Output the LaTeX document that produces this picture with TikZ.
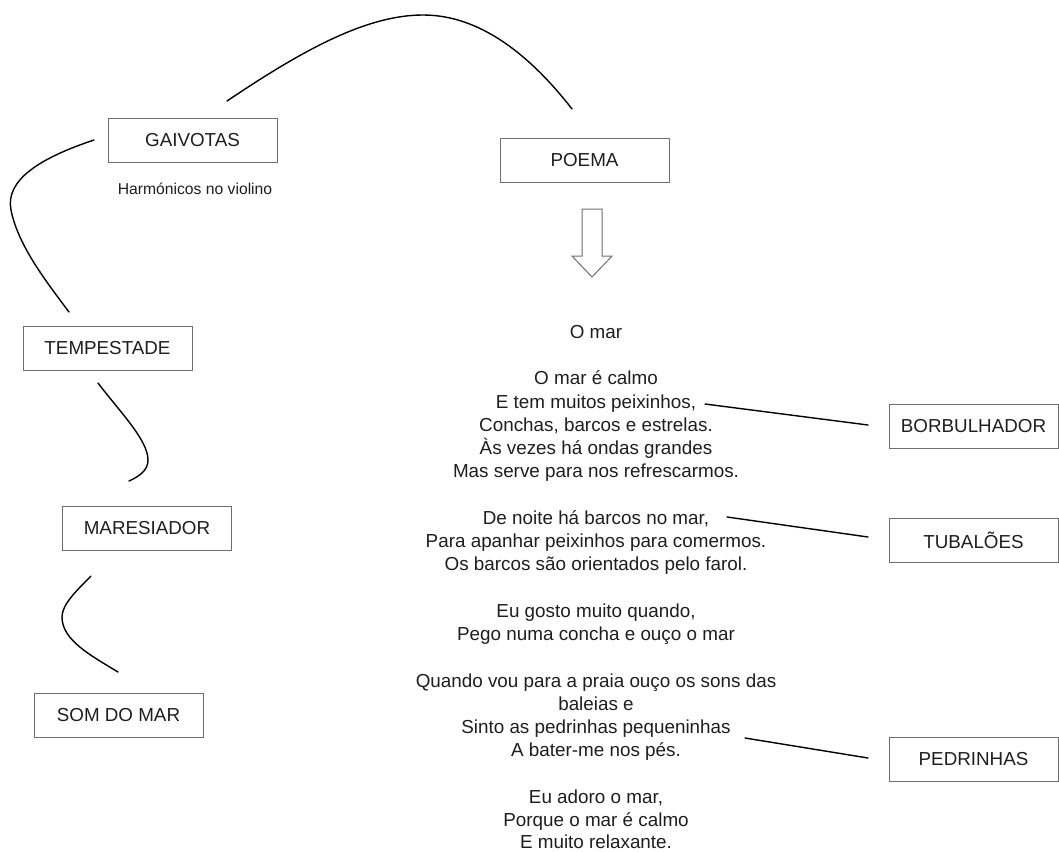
\documentclass[tikz,border=0pt]{standalone}
\usepackage{fontspec}
\setmainfont{Liberation Sans}
\definecolor{boxgray}{HTML}{6E6E6E}
\definecolor{textgray}{HTML}{1E1E1E}
\begin{document}
\begin{tikzpicture}[x=1pt,y=-1pt,
  box/.style={draw=boxgray, line width=1pt, minimum width=169pt, minimum height=44pt, inner sep=0pt, font=\fontsize{18.8}{22}\selectfont, text=textgray},
  conn/.style={line width=1.4pt, black, line cap=round},
  verse/.style={anchor=base, inner sep=0pt, font=\fontsize{18.85}{23}\selectfont, text=textgray},
  note/.style={inner sep=0pt, font=\fontsize{15.7}{18}\selectfont, text=textgray},
  blockarrow/.style={draw=boxgray, line width=1pt, line join=miter}]
\useasboundingbox (0,0) rectangle (1059,851);

% boxes
\node[box] (gaiv) at (192.5,140) {GAIVOTAS};
\node[box] (poema) at (584.5,160) {POEMA};
\node[box] (temp) at (107.5,348) {TEMPESTADE};
\node[box] (mares) at (147,528) {MARESIADOR};
\node[box] (som) at (118.5,715.5) {SOM DO MAR};
\node[box] (borb) at (973.5,426.5) {BORBULHADOR};
\node[box] (tuba) at (973.5,540) {TUBAL\~OES};
\node[box] (pedr) at (973.5,759) {PEDRINHAS};

\node[note] (harm) at (195,189) {Harmónicos no violino};

% block arrow
\draw[blockarrow] (582,209) -- (602,209) -- (602,256) -- (612,256) -- (592,277) -- (572,256) -- (582,256) -- cycle;

% poem
\foreach \yy/\tt [count=\i] in {
  332/{O mar},
  378/{O mar é calmo},
  402/{E tem muitos peixinhos,},
  425/{Conchas, barcos e estrelas.},
  448/{Às vezes há ondas grandes},
  471/{Mas serve para nos refrescarmos.},
  518/{De noite há barcos no mar,},
  541/{Para apanhar peixinhos para comermos.},
  564/{Os barcos são orientados pelo farol.},
  611/{Eu gosto muito quando,},
  634/{Pego numa concha e ouço o mar},
  681/{Quando vou para a praia ouço os sons das},
  704/{baleias e},
  727/{Sinto as pedrinhas pequeninhas},
  750/{A bater-me nos pés.},
  797/{Eu adoro o mar,},
  820/{Porque o mar é calmo},
  842/{E muito relaxante.}}
  \node[verse] (v\i) at (596,\yy+6) {\tt};

% curve end points
\coordinate (a1) at (227,101);
\coordinate (a2) at (423,15);
\coordinate (a3) at (572,109);
\coordinate (b1) at (94,140);
\coordinate (b2) at (11,210);
\coordinate (b3) at (69,312);
\coordinate (t1) at (98,383);
\coordinate (t2) at (148,460);
\coordinate (t3) at (129,481);
\coordinate (m1) at (91,576);
\coordinate (m2) at (62,617);
\coordinate (m3) at (118,672);
\coordinate (r1a) at (705,404);
\coordinate (r1b) at (868,425);
\coordinate (r2a) at (727,517);
\coordinate (r2b) at (868,537);
\coordinate (r3a) at (745,738);
\coordinate (r3b) at (868,758);

% curves
\draw[conn] (a1) .. controls (300,52) and (365,15) .. (a2) .. controls (480,15) and (530,55) .. (a3);
\draw[conn] (b1) .. controls (40,158) and (5,180) .. (b2) .. controls (18,245) and (45,280) .. (b3);
\draw[conn] (t1) .. controls (120,412) and (148,440) .. (t2) .. controls (148,470) and (140,476) .. (t3);
\draw[conn] (m1) .. controls (75,592) and (62,605) .. (m2) .. controls (62,640) and (90,655) .. (m3);

% straight connectors
\draw[conn] (r1a) -- (r1b);
\draw[conn] (r2a) -- (r2b);
\draw[conn] (r3a) -- (r3b);
\end{tikzpicture}
\end{document}
